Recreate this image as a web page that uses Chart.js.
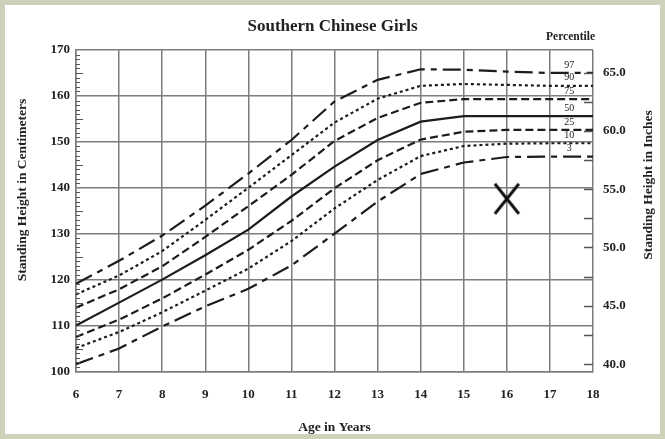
<!DOCTYPE html>
<html>
<head>
<meta charset="utf-8">
<script src="https://cdn.jsdelivr.net/npm/chart.js@4.4.1/dist/chart.umd.min.js"></script>
<style>
    html, body { margin: 0; padding: 0; background: #cfd2bb; }
    #moldura { position: absolute; left: 5px; top: 5px; width: 655px; height: 429px; background: #ffffff; }
</style>
</head>
<body>
<div id="moldura"><canvas id="grafico" width="655" height="429"></canvas></div>
<script>
const idades = [6, 7, 8, 9, 10, 11, 12, 13, 14, 15, 16, 17, 18];
const p97 = [119.1, 124.1, 129.6, 136.1, 143.1, 150.4, 158.8, 163.5, 165.8, 165.7, 165.3, 165.0, 165.0];
const p90 = [116.8, 120.9, 126.2, 133.0, 140.0, 147.1, 154.2, 159.4, 162.2, 162.6, 162.4, 162.2, 162.2];
const p75 = [113.9, 117.9, 122.9, 129.3, 136.0, 142.8, 150.2, 155.2, 158.5, 159.3, 159.3, 159.3, 159.3];
const p50 = [110.0, 115.0, 120.0, 125.3, 130.9, 138.1, 144.6, 150.4, 154.4, 155.6, 155.6, 155.6, 155.6];
const p25 = [107.5, 111.3, 115.9, 121.1, 126.5, 132.8, 139.9, 146.0, 150.5, 152.2, 152.6, 152.6, 152.6];
const p10 = [105.1, 108.6, 112.9, 117.6, 122.4, 128.4, 135.5, 141.7, 146.9, 149.1, 149.6, 149.7, 149.7];
const p3  = [101.6, 105.0, 109.8, 114.2, 118.0, 123.1, 130.0, 137.0, 143.0, 145.5, 146.7, 146.8, 146.8];
const rotulosPercentil = ['97', '90', '75', '50', '25', '10', '3'];
const medidaCrianca = [{ x: 16, y: 137.6 }];
const ticksCm = [100, 110, 120, 130, 140, 150, 160, 170];
const ticksPol = [40, 45, 50, 55, 60, 65];

const FONTE = "'Liberation Serif', 'Times New Roman', serif";
const COR_GRADE = '#7c7c7c';
const COR_LINHA = '#1c1c1c';

const curvas = [p97, p90, p75, p50, p25, p10, p3];
const tracos = [[18, 6, 6, 6], [3, 3], [8, 4], [], [8, 4], [3, 3], [18, 6, 6, 6]];

// marcador "X" um pouco mais alto que largo, como no original
const marcaX = document.createElement('canvas');
marcaX.width = 30; marcaX.height = 34;
(() => {
    const c = marcaX.getContext('2d');
    c.strokeStyle = '#111';
    c.lineWidth = 3;
    c.beginPath();
    c.moveTo(3, 2); c.lineTo(27, 32);
    c.moveTo(27, 2); c.lineTo(3, 32);
    c.stroke();
})();

const conjuntos = curvas.map((serie, i) => ({
    label: rotulosPercentil[i],
    data: idades.map((idade, j) => ({ x: idade, y: serie[j] })),
    borderColor: COR_LINHA,
    borderWidth: 2.2,
    borderDash: tracos[i],
    pointRadius: 0,
    fill: false,
    tension: 0
}));
conjuntos.push({
    type: 'scatter',
    label: 'X',
    data: medidaCrianca,
    pointStyle: marcaX,
    pointRadius: 15
});

// textos extras, marcas internas dos eixos e rotulos dos percentis
const extras = {
    id: 'extras',
    afterDatasetsDraw(chart) {
        const { ctx, chartArea: area, scales } = chart;
        ctx.save();
        ctx.strokeStyle = '#555';
        ctx.lineWidth = 1;
        // marcas de 1 cm na borda esquerda
        for (let v = 101; v < 170; v++) {
            if (v % 10 === 0) continue;
            const y = Math.round(scales.y.getPixelForValue(v)) + 0.5;
            const tam = v % 5 === 0 ? 7 : 4;
            ctx.beginPath();
            ctx.moveTo(area.left, y);
            ctx.lineTo(area.left + tam, y);
            ctx.stroke();
        }
        // marcas de 2,5 polegadas na borda direita
        ctx.lineWidth = 1.5;
        for (let v = 40; v <= 65; v += 2.5) {
            const y = Math.round(scales.yPol.getPixelForValue(v)) + 0.5;
            ctx.beginPath();
            ctx.moveTo(area.right, y);
            ctx.lineTo(area.right - 9, y);
            ctx.stroke();
        }
        // rotulos dos percentis
        ctx.fillStyle = '#222';
        ctx.font = "10px " + FONTE;
        ctx.textAlign = 'center';
        ctx.textBaseline = 'middle';
        const xr = scales.x.getPixelForValue(17.45);
        curvas.forEach((serie, i) => {
            const y = scales.y.getPixelForValue(serie[serie.length - 1]) - 8;
            ctx.fillText(rotulosPercentil[i], xr, y);
        });
        // textos
        ctx.font = "bold 11.5px " + FONTE;
        ctx.textAlign = 'right';
        ctx.fillText('Percentile', area.right + 2, 32);
        ctx.font = "bold 13.5px " + FONTE;
        ctx.textAlign = 'center';
        ctx.save();
        ctx.translate(18, 185);
        ctx.rotate(-Math.PI / 2);
        ctx.fillText('Standing Height in Centimeters', 0, 0);
        ctx.restore();
        ctx.save();
        ctx.translate(644, 180);
        ctx.rotate(-Math.PI / 2);
        ctx.fillText('Standing Height in Inches', 0, 0);
        ctx.restore();
        ctx.restore();
    }
};

const ctx = document.getElementById('grafico').getContext('2d');
const grafico = new Chart(ctx, {
    type: 'line',
    data: { datasets: conjuntos },
    plugins: [extras],
    options: {
        responsive: false,
        animation: false,
        devicePixelRatio: 1,
        layout: { padding: 0 },
        plugins: {
            legend: { display: false },
            tooltip: { enabled: false },
            title: {
                display: true,
                text: 'Southern Chinese Girls',
                color: '#222',
                font: { family: FONTE, size: 17, weight: 'bold', lineHeight: 1.2 },
                padding: { top: 11, bottom: 13.6 }
            }
        },
        scales: {
            x: {
                type: 'linear',
                min: 6,
                max: 18,
                ticks: { stepSize: 1, color: '#222', padding: 15, font: { family: FONTE, size: 13, weight: 'bold' } },
                grid: { color: COR_GRADE, lineWidth: 1.5, drawTicks: false },
                border: { color: COR_GRADE, width: 1.5 },
                title: {
                    display: true,
                    text: 'Age in Years',
                    color: '#222',
                    font: { family: FONTE, size: 13.5, weight: 'bold', lineHeight: 1.2 },
                    padding: { top: 0, bottom: -1.5 }
                },
                afterFit: (escala) => { escala.height = 62.5; }
            },
            y: {
                type: 'linear',
                position: 'left',
                min: 100,
                max: 170,
                afterBuildTicks: (escala) => { escala.ticks = ticksCm.map(v => ({ value: v })); },
                ticks: { color: '#222', padding: 6, font: { family: FONTE, size: 13, weight: 'bold' } },
                grid: { color: COR_GRADE, lineWidth: 1.5, drawTicks: false },
                border: { color: COR_GRADE, width: 1.5 },
                afterFit: (escala) => { escala.width = 71; }
            },
            yPol: {
                type: 'linear',
                position: 'right',
                min: 100 / 2.54,
                max: 170 / 2.54,
                afterBuildTicks: (escala) => { escala.ticks = ticksPol.map(v => ({ value: v })); },
                ticks: {
                    color: '#222',
                    padding: 10,
                    font: { family: FONTE, size: 13, weight: 'bold' },
                    callback: (v) => v.toFixed(1)
                },
                grid: { display: false, drawTicks: false },
                border: { display: false },
                afterFit: (escala) => { escala.width = 67; }
            }
        }
    }
});
</script>
</body>
</html>
